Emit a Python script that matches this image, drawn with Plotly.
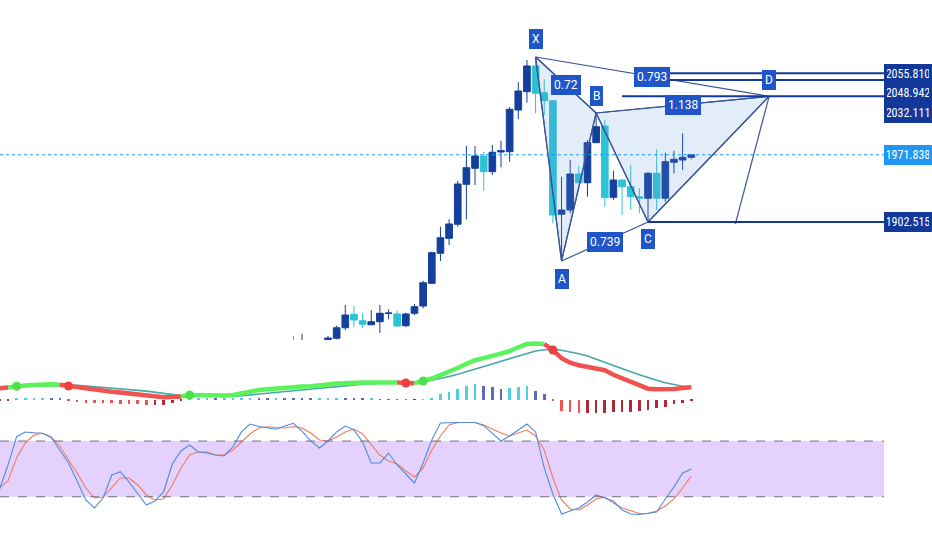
import plotly.graph_objects as go

# ---------------- price candles (bar index, OHLC) ----------------
cndl_idx = [-4, -3] + list(range(0, 43))
cndl_open = [1778.0, 1777.0,
             1781.4, 1782.6, 1793.5, 1807.4, 1800.8, 1796.6, 1799.7, 1808.2, 1807.7, 1795.6,
             1808.4, 1815.9, 1839.3, 1870.3, 1885.7, 1900.2, 1941.4, 1957.9, 1970.6, 1954.4,
             1974.7, 1975.0, 2018.0, 2036.9, 2063.4, 2035.8, 2027.6, 1910.5, 1914.9, 1952.0,
             1943.0, 1984.3, 2001.5, 1928.0, 1945.8, 1938.9, 1928.6, 1927.0, 1952.7, 1927.0,
             1964.1, 1966.4, 1969.2]
cndl_high = [1785.0, 1787.1,
             1785.0, 1795.6, 1816.9, 1815.9, 1809.0, 1811.8, 1816.9, 1812.5, 1811.1, 1809.0,
             1818.0, 1842.0, 1871.9, 1897.7, 1905.3, 1945.1, 1980.9, 1980.9, 1974.7, 1981.9,
             1986.3, 2021.1, 2046.6, 2069.5, 2072.6, 2049.6, 2028.3, 1949.2, 1966.4, 1960.3,
             1987.1, 2014.9, 2007.7, 1955.4, 1946.9, 1961.3, 1937.3, 1954.1, 1977.5, 1974.0,
             1976.0, 1994.0, 1972.6]
cndl_low = [1772.0, 1774.0,
            1780.0, 1781.6, 1791.2, 1794.6, 1793.2, 1796.3, 1788.1, 1802.2, 1794.6, 1794.0,
            1806.6, 1813.5, 1838.6, 1862.3, 1878.8, 1897.7, 1905.3, 1940.7, 1934.8, 1951.0,
            1958.9, 1964.7, 2008.7, 2025.5, 2014.6, 2012.8, 1901.2, 1862.3, 1911.5, 1942.7,
            1928.6, 1984.0, 1918.3, 1925.2, 1909.7, 1914.9, 1911.5, 1902.5, 1914.9, 1923.5,
            1952.7, 1956.1, 1967.2]
cndl_close = [1776.0, 1779.0,
              1782.9, 1793.5, 1806.6, 1801.5, 1797.1, 1799.7, 1808.4, 1808.7, 1795.3, 1807.7,
              1815.2, 1839.9, 1870.9, 1886.3, 1900.5, 1941.7, 1958.5, 1970.6, 1954.4, 1974.4,
              1976.0, 2018.7, 2037.6, 2063.4, 2035.2, 2027.6, 1909.7, 1914.9, 1952.0, 1943.0,
              1984.3, 2000.8, 1927.6, 1945.8, 1938.9, 1928.6, 1927.0, 1952.7, 1927.0, 1964.7,
              1967.2, 1969.2, 1971.838]

# ---------------- XABCD harmonic pattern ----------------
pat_names = ["X", "A", "B", "C", "D"]
pat_idx = [24, 27, 31, 37, 51]
pat_price = [2072.6, 1862.3, 2014.9, 1902.515, 2032.111]
ratio_text = ["0.72", "0.739", "0.793", "1.138"]
ratio_pairs = [("X", "B"), ("A", "C"), ("X", "D"), ("B", "D")]
d_leg_idx = [51, 47.1]
d_leg_price = [2032.111, 1900.5]

level_prices = [2055.810, 2048.942, 2032.111, 1902.515]
level_start = [37.5, 37.5, 34, 37]
level_label_shift = [-1, -13, -17, 0]
last_price = 1971.838

# ---------------- MACD (bar index -38 .. 42) ----------------
ind_idx = list(range(-38, 43))
macd_line = [7.5, 8.0, 8.9, 9.3, 9.7, 10.0, 10.1, 9.8, 9.0, 8.0,
             7.0, 6.3, 5.8, 5.2, 4.6, 3.9, 3.2, 2.3, 1.8, 1.5,
             1.6, 2.0, 3.0, 2.9, 2.6, 2.5, 2.7, 3.0, 4.3, 5.7,
             6.3, 6.8, 7.4, 7.9, 8.3, 8.6, 8.9, 9.2, 10.0, 10.6,
             11.0, 11.2, 11.3, 11.3, 11.3, 11.3, 11.3, 11.0, 10.9, 12.3,
             14.0, 16.3, 18.5, 21.0, 23.8, 26.2, 27.6, 29.0, 30.5, 32.2,
             34.8, 37.0, 37.3, 37.0, 33.0, 27.5, 24.5, 22.8, 21.8, 20.8,
             19.5, 16.5, 14.2, 11.5, 9.3, 7.2, 6.8, 6.8, 7.0, 7.6,
             8.2]
macd_signal = [8.5, 8.6, 8.7, 8.8, 9.0, 9.2, 9.4, 9.5, 9.6, 9.4,
               9.0, 8.6, 8.2, 7.8, 7.3, 6.6, 6.1, 5.6, 4.8, 4.0,
               3.3, 2.6, 2.3, 2.2, 2.1, 2.0, 1.9, 2.0, 2.5, 3.0,
               3.5, 4.0, 4.6, 5.2, 5.8, 6.3, 6.8, 7.4, 8.0, 8.6,
               9.3, 9.8, 10.2, 10.5, 10.8, 11.0, 11.2, 11.4, 11.6, 12.0,
               12.9, 14.0, 15.3, 16.8, 18.4, 20.1, 21.9, 23.7, 25.5, 27.3,
               29.2, 31.0, 32.4, 33.2, 33.4, 32.8, 31.8, 30.5, 29.0, 26.8,
               24.8, 22.6, 20.5, 18.5, 16.5, 14.5, 12.8, 11.2, 9.9, 8.8,
               8.4]
macd_hist = [-0.8, -0.6, 0.5, 0.7, 0.8, 0.8, 0.7, 0.4, -0.6, -1.5,
             -2.0, -2.3, -2.5, -2.6, -2.8, -3.0, -3.3, -3.7, -3.7, -3.5,
             -2.2, -1.0, 0.5, 0.6, 0.6, 0.5, 0.7, 0.9, 1.1, 1.3,
             1.2, 1.0, 1.0, 0.9, 0.8, 0.7, 0.6, 0.6, 0.7, 0.8,
             0.6, 0.5, 0.4, 0.4, 0.3, 0.2, 0.1, -0.2, -0.1, 0.3,
             1.2, 3.7, 5.2, 6.8, 9.0, 10.1, 9.0, 8.1, 6.8, 7.5,
             8.3, 9.0, 5.7, 3.7, -1.0, -7.7, -8.5, -9.2, -9.1, -9.0,
             -8.8, -8.5, -8.1, -8.0, -7.4, -7.0, -5.9, -4.8, -3.0, -2.1,
             -1.2]

# ---------------- Stochastic (bar index -38 .. 42) ----------------
stoch_k = [27.3, 54.0, 84.7, 89.8, 89.0, 88.4, 83.8, 70.4, 56.4, 37.0,
           16.5, 7.9, 18.6, 43.4, 47.0, 35.9, 24.0, 11.1, 15.4, 25.1,
           55.3, 69.3, 75.8, 68.2, 67.1, 65.0, 63.9, 73.6, 89.8, 98.4,
           95.7, 94.1, 92.7, 96.2, 99.1, 90.8, 80.1, 72.5, 80.1, 89.8,
           96.2, 91.9, 79.0, 56.4, 56.4, 67.1, 54.2, 44.5, 34.8, 56.4,
           81.1, 99.5, 100.0, 100.0, 100.0, 100.0, 96.6, 88.7, 80.1, 85.5,
           91.9, 98.4, 89.8, 51.0, 23.0, 1.4, 4.6, 7.9, 14.3, 21.9,
           18.6, 15.4, 5.7, 1.4, 0.8, 1.9, 3.6, 17.6, 30.5, 45.6,
           49.9]
stoch_d = [29.4, 37.0, 61.7, 77.9, 86.5, 88.4, 84.4, 74.7, 59.6, 45.6,
           29.4, 18.6, 19.7, 29.4, 40.2, 40.2, 32.7, 21.9, 16.5, 17.6,
           32.7, 51.0, 65.0, 68.2, 68.2, 65.0, 65.0, 70.4, 79.0, 87.6,
           94.1, 95.5, 94.6, 94.1, 95.7, 94.1, 88.7, 81.1, 80.1, 84.4,
           89.8, 93.0, 87.6, 76.8, 65.0, 58.5, 55.3, 47.7, 41.3, 51.0,
           70.4, 85.5, 97.3, 100.0, 100.0, 100.0, 97.3, 93.0, 88.7, 85.5,
           88.7, 91.9, 85.5, 70.4, 40.2, 16.5, 6.8, 5.7, 11.1, 17.6,
           19.7, 13.3, 7.9, 4.6, 1.9, 1.9, 4.6, 10.0, 17.6, 29.4,
           42.3]
stoch_upper = 80
stoch_lower = 20

# ---------------- styling ----------------
UP = "#143f9c"
DOWN = "#2cc3d6"
PAT_LINE = "#3a5597"
PAT_FILL = "rgba(100,150,220,0.18)"
LABEL_BG = "#1f55c9"
LEVEL = "#12389a"
X_LEFT, X_RIGHT = -37.92, 69.83
SCALE_EDGE = 64.28

fig = go.Figure()

fig.add_trace(go.Candlestick(
    x=cndl_idx, open=cndl_open, high=cndl_high, low=cndl_low, close=cndl_close,
    increasing=dict(line=dict(color=UP, width=1), fillcolor=UP),
    decreasing=dict(line=dict(color=DOWN, width=1), fillcolor=DOWN),
    whiskerwidth=0, xaxis="x", yaxis="y", hoverinfo="skip"))

pt = {n: (i, p) for n, i, p in zip(pat_names, pat_idx, pat_price)}

# filled triangles XAB and BCD
for tri in (("X", "A", "B"), ("B", "C", "D")):
    fig.add_trace(go.Scatter(
        x=[pt[n][0] for n in tri] + [pt[tri[0]][0]],
        y=[pt[n][1] for n in tri] + [pt[tri[0]][1]],
        mode="lines", fill="toself", fillcolor=PAT_FILL,
        line=dict(color=PAT_LINE, width=1.2), hoverinfo="skip"))

# pattern legs / ratio lines
for a, b in [("X", "A"), ("A", "B"), ("B", "C"), ("C", "D")] + ratio_pairs:
    fig.add_trace(go.Scatter(x=[pt[a][0], pt[b][0]], y=[pt[a][1], pt[b][1]],
                             mode="lines", line=dict(color=PAT_LINE, width=1.2),
                             hoverinfo="skip"))
fig.add_trace(go.Scatter(x=d_leg_idx, y=d_leg_price, mode="lines",
                         line=dict(color=PAT_LINE, width=1.2), hoverinfo="skip"))

# horizontal levels
for p, s in zip(level_prices, level_start):
    fig.add_trace(go.Scatter(x=[s, SCALE_EDGE + 0.5], y=[p, p], mode="lines",
                             line=dict(color=LEVEL, width=2), hoverinfo="skip"))
fig.add_trace(go.Scatter(x=[X_LEFT, SCALE_EDGE + 0.5], y=[last_price, last_price], mode="lines",
                         line=dict(color="#2196f3", width=1, dash="dot"), hoverinfo="skip"))

# ---------------- MACD pane ----------------
hist_colors = []
for i, v in enumerate(macd_hist):
    prev = macd_hist[i - 1] if i > 0 else v
    if v >= 0:
        hist_colors.append("#4dd0e1" if v >= prev else "#5c6bc0")
    else:
        hist_colors.append("#ef5350" if v < prev else "#b2283b")
fig.add_trace(go.Bar(x=ind_idx, y=macd_hist, marker=dict(color=hist_colors, line=dict(width=0)),
                     width=0.3, xaxis="x", yaxis="y2", hoverinfo="skip"))

fig.add_trace(go.Scatter(x=ind_idx, y=macd_signal, mode="lines",
                         line=dict(color="#45a8a8", width=1.6), xaxis="x", yaxis="y2",
                         hoverinfo="skip"))

state = [m > s for m, s in zip(macd_line, macd_signal)]
runs = []
start = 0
for i in range(1, len(state) + 1):
    if i == len(state) or state[i] != state[start]:
        runs.append((start, i - 1, state[start]))
        start = i
for a, b, st in runs:
    a0 = max(a - 1, 0)
    fig.add_trace(go.Scatter(x=ind_idx[a0:b + 1], y=macd_line[a0:b + 1], mode="lines",
                             line=dict(color="#5cf25c" if st else "#f0524f", width=4.5),
                             xaxis="x", yaxis="y2", hoverinfo="skip"))
cross_x, cross_y, cross_c = [], [], []
for i in range(1, len(state)):
    if state[i] != state[i - 1]:
        cross_x.append(ind_idx[i])
        cross_y.append(macd_line[i])
        cross_c.append("#4ce04c" if state[i] else "#e8413e")
fig.add_trace(go.Scatter(x=cross_x, y=cross_y, mode="markers",
                         marker=dict(color=cross_c, size=9), xaxis="x", yaxis="y2",
                         hoverinfo="skip"))

# ---------------- Stochastic pane ----------------
fig.add_shape(type="rect", xref="x", yref="y3", x0=X_LEFT, x1=SCALE_EDGE,
              y0=stoch_lower, y1=stoch_upper, fillcolor="rgba(190,140,250,0.40)",
              line=dict(width=0), layer="below")
for lv in (stoch_upper, stoch_lower):
    fig.add_shape(type="line", xref="x", yref="y3", x0=X_LEFT, x1=SCALE_EDGE, y0=lv, y1=lv,
                  line=dict(color="#6e6e80", width=1, dash="dash"))
fig.add_trace(go.Scatter(x=ind_idx, y=stoch_d, mode="lines",
                         line=dict(color="#f07a5c", width=1.1), xaxis="x", yaxis="y3",
                         hoverinfo="skip"))
fig.add_trace(go.Scatter(x=ind_idx, y=stoch_k, mode="lines",
                         line=dict(color="#4f8be0", width=1.1), xaxis="x", yaxis="y3",
                         hoverinfo="skip"))

# ---------------- annotations ----------------
ann = []
label_font = dict(family="Roboto, Open Sans, sans-serif", size=12, color="white")
name_shift = {"X": 18, "A": -18, "B": 17, "C": -17, "D": 16}
for n, i, p in zip(pat_names, pat_idx, pat_price):
    ann.append(dict(x=i, y=p, xref="x", yref="y", text=n, showarrow=False,
                    yshift=name_shift[n], font=label_font, bgcolor=LABEL_BG,
                    bordercolor=LABEL_BG, borderpad=2))
for t, (a, b) in zip(ratio_text, ratio_pairs):
    ann.append(dict(x=(pt[a][0] + pt[b][0]) / 2, y=(pt[a][1] + pt[b][1]) / 2,
                    xref="x", yref="y", text=t, showarrow=False, font=label_font,
                    bgcolor=LABEL_BG, bordercolor=LABEL_BG, borderpad=2))
price_font = dict(family="Liberation Sans Narrow, Roboto Condensed, Arial Narrow, sans-serif",
                  size=12, color="white")
for p, sh in zip(level_prices, level_label_shift):
    ann.append(dict(x=1, y=p, xref="paper", yref="y", xanchor="right", text=f"{p:.3f}",
                    showarrow=False, yshift=sh, font=price_font, bgcolor=LEVEL,
                    bordercolor=LEVEL, borderpad=2, width=42))
ann.append(dict(x=1, y=last_price, xref="paper", yref="y", xanchor="right",
                text=f"{last_price:.3f}", showarrow=False, font=price_font,
                bgcolor="#2196f3", bordercolor="#2196f3", borderpad=2, width=42))

fig.update_layout(
    width=932, height=550, margin=dict(l=0, r=0, t=0, b=0),
    paper_bgcolor="white", plot_bgcolor="white", showlegend=False,
    boxgap=0.23, boxgroupgap=0.0, bargap=0.0,
    xaxis=dict(range=[X_LEFT, X_RIGHT], visible=False, rangeslider=dict(visible=False),
               showgrid=False, zeroline=False),
    yaxis=dict(domain=[0.3818, 1.0], range=[1780.86, 2131.4], visible=False,
               showgrid=False, zeroline=False),
    yaxis2=dict(domain=[0.24, 0.3818], range=[-12.33, 39.67], visible=False, anchor="x",
                showgrid=False, zeroline=False),
    yaxis3=dict(domain=[0.0, 0.24], range=[-37.4, 104.85], visible=False, anchor="x",
                showgrid=False, zeroline=False),
    annotations=ann,
)

fig.write_html("out.html", config={"displayModeBar": False},
               post_script="document.body.style.margin='0';document.body.style.overflow='hidden';")
